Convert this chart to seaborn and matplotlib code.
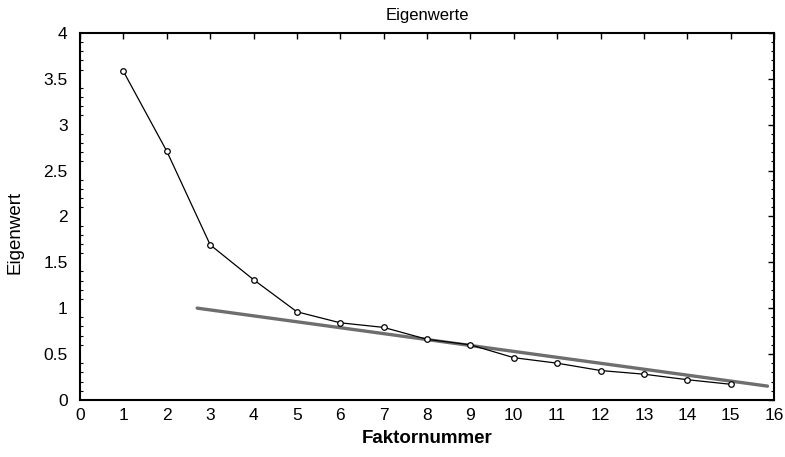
import matplotlib
matplotlib.use("Agg")
import matplotlib.pyplot as plt
from matplotlib.ticker import MultipleLocator
import pandas as pd
import seaborn as sns

# Eigenwerte je Faktor (Scree-Plot)
faktor = [1, 2, 3, 4, 5, 6, 7, 8, 9, 10, 11, 12, 13, 14, 15]
eigenwert = [3.58, 2.71, 1.69, 1.31, 0.96, 0.84, 0.79, 0.66, 0.60,
             0.46, 0.40, 0.32, 0.28, 0.22, 0.17]

# Gerade durch das "Geröll"
fit_x = [2.7, 15.85]
fit_y = [1.0, 0.15]

data = pd.DataFrame({'Faktornummer': faktor, 'Eigenwert': eigenwert})
fit = pd.DataFrame({'x': fit_x, 'y': fit_y})

sns.set_style('white', {'text.color': 'black', 'axes.labelcolor': 'black',
                        'xtick.color': 'black', 'ytick.color': 'black'})
plt.rcParams['font.family'] = ['Liberation Sans', 'DejaVu Sans']

fig = plt.figure(figsize=(7.85, 4.57), dpi=100)
ax = fig.add_axes([0.102, 0.125, 0.884, 0.803])

sns.lineplot(x='x', y='y', data=fit, ax=ax, color='#6e6e6e', linewidth=2.4)
sns.lineplot(
    x='Faktornummer', y='Eigenwert', data=data, ax=ax,
    color='black', linewidth=0.9, marker='o', markersize=4,
    markerfacecolor='white', markeredgecolor='black', markeredgewidth=0.9
)

ax.set_xlim(0, 16)
ax.set_ylim(0, 4)
ax.xaxis.set_major_locator(MultipleLocator(1))
ax.yaxis.set_minor_locator(MultipleLocator(0.1))
ax.set_yticks([0, 0.5, 1, 1.5, 2, 2.5, 3, 3.5, 4])
ax.set_yticklabels(['0', '0.5', '1', '1.5', '2', '2.5', '3', '3.5', '4'])

ax.tick_params(axis='both', which='major', direction='in', length=4, width=1,
               top=True, right=True, labelsize=12.5, color='black',
               labelcolor='black')
ax.tick_params(axis='y', which='major', pad=9)
ax.tick_params(axis='x', which='major', pad=6)
ax.tick_params(axis='y', which='minor', direction='in', length=2.5, width=0.8,
               left=True, right=True)
for s in ax.spines.values():
    s.set_color('black')
    s.set_linewidth(1.5)

ax.set_title('Eigenwerte', fontsize=12, pad=9, color='black')
ax.set_xlabel('Faktornummer', fontsize=13.5, fontweight='bold', labelpad=5)
ax.set_ylabel('Eigenwert', fontsize=13.5)
ax.yaxis.set_label_coords(-0.081, 0.455)

plt.savefig('out.png', dpi=100)
plt.close()
